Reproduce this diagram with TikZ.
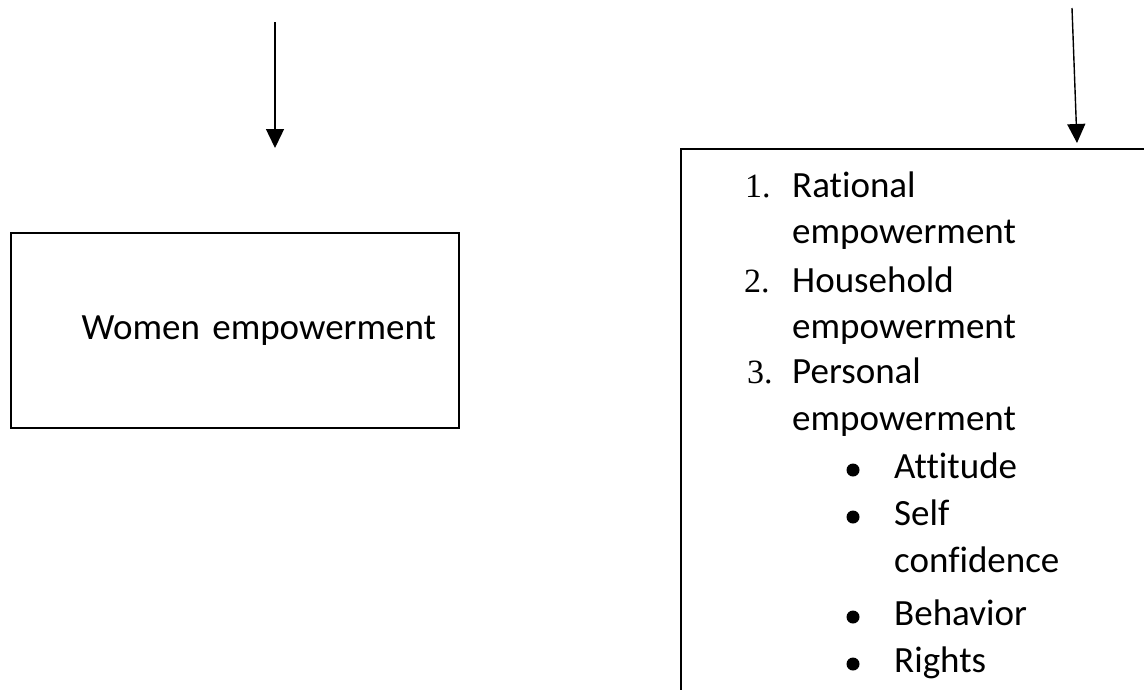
\documentclass[tikz,border=0pt]{standalone}
\usepackage{fontspec}
\setmainfont[Ligatures=NoCommon]{Carlito}
\newfontfamily\numfont{Liberation Serif}
\usetikzlibrary{arrows.meta,positioning}
\tikzset{
  arr/.style={-{Triangle[length=19pt,width=18pt]},line width=1.4pt},
  panel/.style={rectangle,draw,line width=2pt,inner sep=0pt},
  txt/.style={anchor=base west,inner sep=0pt,font=\fontsize{37}{44}\selectfont},
  num/.style={anchor=base west,inner sep=0pt,font=\fontsize{34}{40}\numfont},
  bul/.style={circle,fill,inner sep=0pt,minimum size=13pt},
}
\begin{document}
\begin{tikzpicture}[x=1pt,y=-1pt]
\clip (0,0) rectangle (1144,689);

% left column
\coordinate (lsrc) at (275,22);
\coordinate (ltip) at (275,148);
\node[panel,anchor=north west,minimum width=448pt,minimum height=195pt,
  text width=402pt,align=right,font=\fontsize{37}{44}\selectfont] (women) at (10,232)
  {Women empowerment};
\draw[arr] (lsrc) -- (ltip);

% right column
\coordinate (rsrc) at (1072,8);
\coordinate (rtip) at (1077,143);
\node[panel,anchor=north west,minimum width=500pt,minimum height=560pt] (types) at (680,148) {};
\draw[arr] (rsrc) -- (rtip);

\node[num] (n1) at (745,197) {1.};
\node[txt] (rat) at (792,197) {Rational};
\node[txt] (rat2) at (792,243) {empowerment};
\node[num] (n2) at (744,292) {2.};
\node[txt] (hh) at (792,292) {Household};
\node[txt] (hh2) at (792,338) {empowerment};
\node[num] (n3) at (747,383) {3.};
\node[txt] (pers) at (792,383) {Personal};
\node[txt] (pers2) at (792,430) {empowerment};

% sub-items of personal empowerment
\foreach \y/\nm/\lbl in {478/att/Attitude,525/self/Self,625/beh/Behavior,672/rig/Rights}{
  \node[bul] (b\nm) at (853,\y-8) {};
  \node[txt] (\nm) at (894,\y) {\lbl};
}
\node[txt] (conf) at (894,572) {confidence};
\end{tikzpicture}
\end{document}
